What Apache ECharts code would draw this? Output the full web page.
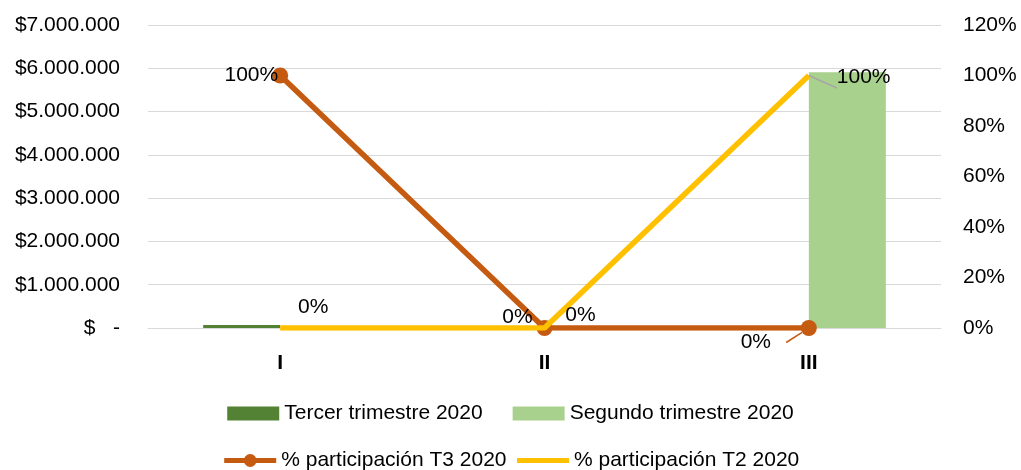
<!DOCTYPE html>
<html>
<head>
<meta charset="utf-8">
<script src="https://cdn.jsdelivr.net/npm/echarts@6/dist/echarts.min.js"></script>
<style>
html,body{margin:0;padding:0;background:#fff;}
#chart{width:1021px;height:470px;}
</style>
</head>
<body>
<div id="chart"></div>
<script>
const categories = ['I', 'II', 'III'];
const tercerTrimestre = [70000, 0, 0];
const segundoTrimestre = [0, 0, 5910000];
const pctT3 = [100, 0, 0];
const pctT2 = [0, 0, 100];
const leftTicks = [0, 7000000, 1000000];
const rightTicks = [0, 120, 20];

const FONT = 'Liberation Sans';
const FS = 21;
const TXT = '#000';

function money(v) {
  if (v === 0) return '$   -';
  return '$' + v.toString().replace(/\B(?=(\d{3})+(?!\d))/g, '.');
}

const t3Labels = [
  { label: { position: 'left', offset: [6, 0] } },
  { label: { position: 'top', offset: [-27, 8] } },
  { label: { position: 'bottom', offset: [-53, -4] },
    labelLine: { show: true, lineStyle: { color: '#C55A11', width: 1.5 } } }
];
const t2Labels = [
  { label: { position: 'top', offset: [33, -10] } },
  { label: { position: 'top', offset: [36, -2] } },
  { label: { position: 'right', offset: [28, 2] },
    labelLine: { show: true, lineStyle: { color: '#A6A6A6', width: 1.5 } } }
];

const chart = echarts.init(document.getElementById('chart'), null, { renderer: 'canvas' });
chart.setOption({
  animation: false,
  backgroundColor: '#fff',
  textStyle: { fontFamily: FONT, fontSize: FS, color: TXT },
  grid: { left: 148, right: 80, top: 25, bottom: 142, containLabel: false },
  legend: [
    {
      data: ['Tercer trimestre 2020', 'Segundo trimestre 2020'],
      icon: 'rect',
      top: 398, left: 'center',
      itemWidth: 52, itemHeight: 14, itemGap: 30,
      textStyle: { fontFamily: FONT, fontSize: FS, color: TXT }
    },
    {
      data: [
        { name: '% participación T3 2020' },
        { name: '% participación T2 2020', itemStyle: { opacity: 0 } }
      ],
      top: 445, left: 'center',
      itemWidth: 52, itemHeight: 16, itemGap: 8,
      lineStyle: { width: 5 },
      textStyle: { fontFamily: FONT, fontSize: FS, color: TXT }
    }
  ],
  xAxis: {
    type: 'category',
    data: categories,
    axisLine: { lineStyle: { color: '#D9D9D9', width: 1 } },
    axisTick: { show: false },
    axisLabel: { fontFamily: FONT, fontSize: FS, color: TXT, fontWeight: 'bold', margin: 25 }
  },
  yAxis: [
    {
      type: 'value',
      min: leftTicks[0], max: leftTicks[1], interval: leftTicks[2],
      axisLine: { show: false },
      axisTick: { show: false },
      splitLine: { lineStyle: { color: '#D9D9D9', width: 1 } },
      axisLabel: { fontFamily: FONT, fontSize: FS, color: TXT, margin: 28, formatter: money }
    },
    {
      type: 'value',
      min: rightTicks[0], max: rightTicks[1], interval: rightTicks[2],
      axisLine: { show: false },
      axisTick: { show: false },
      splitLine: { show: false },
      axisLabel: { fontFamily: FONT, fontSize: FS, color: TXT, margin: 22, formatter: v => v + '%' }
    }
  ],
  series: [
    {
      name: 'Tercer trimestre 2020',
      type: 'bar',
      yAxisIndex: 0,
      data: tercerTrimestre,
      barWidth: 77,
      barGap: '0%',
      itemStyle: { color: '#548235' }
    },
    {
      name: 'Segundo trimestre 2020',
      type: 'bar',
      yAxisIndex: 0,
      data: segundoTrimestre,
      barWidth: 77,
      barGap: '0%',
      itemStyle: { color: '#A9D18E' }
    },
    {
      name: '% participación T3 2020',
      type: 'line',
      yAxisIndex: 1,
      data: pctT3.map((v, i) => Object.assign({ value: v }, t3Labels[i])),
      symbol: 'circle',
      symbolSize: 16,
      lineStyle: { color: '#C55A11', width: 5.5 },
      itemStyle: { color: '#C55A11' },
      z: 3,
      label: {
        show: true, formatter: p => p.value + '%',
        fontFamily: FONT, fontSize: FS, color: TXT, distance: 0
      }
    },
    {
      name: '% participación T2 2020',
      type: 'line',
      yAxisIndex: 1,
      data: pctT2.map((v, i) => Object.assign({ value: v }, t2Labels[i])),
      symbol: 'circle',
      symbolSize: 0,
      showSymbol: true,
      lineStyle: { color: '#FFC000', width: 5.5 },
      itemStyle: { color: '#FFC000' },
      z: 4,
      label: {
        show: true, formatter: p => p.value + '%',
        fontFamily: FONT, fontSize: FS, color: TXT, distance: 0
      }
    }
  ]
});
</script>
</body>
</html>
